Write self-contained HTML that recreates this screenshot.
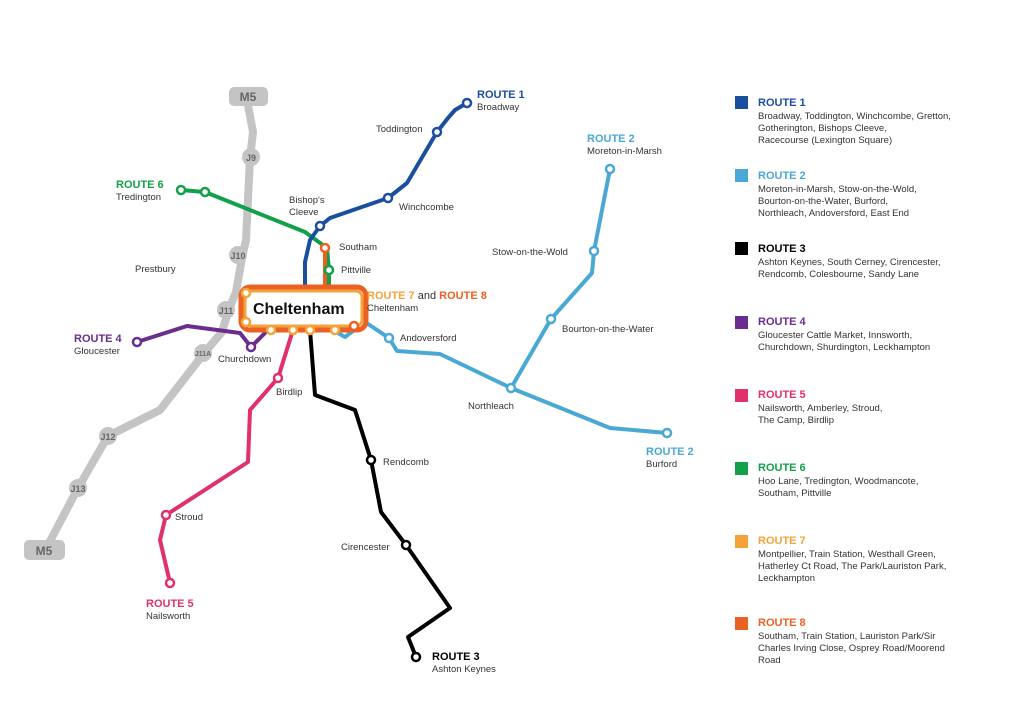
<!DOCTYPE html>
<html><head><meta charset="utf-8"><style>
body{margin:0;background:#fff}
svg{display:block}
text{font-family:"Liberation Sans",sans-serif;font-size:9.5px;fill:#333}
.b{font-weight:bold;font-size:11px}
</style></head><body>
<svg width="1024" height="724" viewBox="0 0 1024 724">
<g fill="none" stroke-linejoin="round" stroke-linecap="round">
<!-- M5 -->
<polyline stroke="#c4c4c4" stroke-width="8" points="247,100 253,132 250,158 246,240 242,258 236,292 228,312 222,332 205,352 160,410 108,436 78,488 48,545"/>
<!-- route 6 -->
<polyline stroke="#12a04b" stroke-width="4" points="181,190 205,192 305,232 327,248 329,270 329,290"/>
<!-- route 8 orange spur -->
<polyline stroke="#ea6223" stroke-width="4" points="325,248 325,290"/>
<!-- route 1 -->
<polyline stroke="#1a4e9e" stroke-width="4" points="467,103 455,110 448,118 437,132 407,183 388,198 330,218 320,226 310,240 305,262 305,292"/>
<!-- route 2 -->
<polyline stroke="#4aa9d4" stroke-width="4" points="610,169 594,251 592,273 551,319 511,388"/>
<polyline stroke="#4aa9d4" stroke-width="4" points="336,332 345,337 365,322 389,338 397,351 440,354 511,388 610,428 667,433"/>
<!-- route 3 -->
<polyline stroke="#000" stroke-width="4" points="310,330 315,395 355,410 371,460 381,512 406,545 450,608 408,637 416,657"/>
<!-- route 5 -->
<polyline stroke="#e0306e" stroke-width="4" points="293,330 278,378 250,410 248,462 166,515 160,540 170,583"/>
<!-- route 4 -->
<polyline stroke="#6a2c8f" stroke-width="4" points="137,342 187,326 240,333 251,347 265,333"/>
<!-- box -->
<rect x="241" y="287" width="125" height="43" rx="9" stroke="#ea6223" stroke-width="5" fill="#fff"/>
<rect x="245" y="291" width="117" height="35" rx="6" stroke="#f4a33a" stroke-width="3"/>
</g>
<!-- M5 labels -->
<g fill="#c4c4c4">
<rect x="229" y="87" width="39" height="19" rx="5"/>
<rect x="24" y="540" width="41" height="20" rx="5"/>
<circle cx="251" cy="157" r="9"/><circle cx="238" cy="255" r="9"/><circle cx="226" cy="310" r="9"/><circle cx="203" cy="353" r="9"/><circle cx="108" cy="436" r="9"/><circle cx="78" cy="488" r="9"/>
</g>
<g font-weight="bold" style="font-weight:bold">
<text x="248" y="101" text-anchor="middle" style="font-size:12px;fill:#666;font-weight:bold">M5</text>
<text x="44" y="555" text-anchor="middle" style="font-size:12px;fill:#666;font-weight:bold">M5</text>
<text x="251" y="161" text-anchor="middle" style="font-size:9px;fill:#666">J9</text>
<text x="238" y="259" text-anchor="middle" style="font-size:9px;fill:#666">J10</text>
<text x="226" y="314" text-anchor="middle" style="font-size:9px;fill:#666">J11</text>
<text x="203" y="356" text-anchor="middle" style="font-size:7px;fill:#666">J11A</text>
<text x="108" y="440" text-anchor="middle" style="font-size:9px;fill:#666">J12</text>
<text x="78" y="492" text-anchor="middle" style="font-size:9px;fill:#666">J13</text>
</g>
<!-- stations -->
<g fill="#fff" stroke-width="2.5">
<g stroke="#1a4e9e"><circle cx="467" cy="103" r="4"/><circle cx="437" cy="132" r="4"/><circle cx="388" cy="198" r="4"/><circle cx="320" cy="226" r="4"/></g>
<g stroke="#12a04b"><circle cx="181" cy="190" r="4"/><circle cx="205" cy="192" r="4"/><circle cx="329" cy="270" r="4"/></g>
<g stroke="#ea6223"><circle cx="325" cy="248" r="4"/><circle cx="354" cy="326" r="4"/></g>
<g stroke="#4aa9d4"><circle cx="610" cy="169" r="4"/><circle cx="594" cy="251" r="4"/><circle cx="551" cy="319" r="4"/><circle cx="511" cy="388" r="4"/><circle cx="389" cy="338" r="4"/><circle cx="667" cy="433" r="4"/></g>
<g stroke="#000"><circle cx="371" cy="460" r="4"/><circle cx="406" cy="545" r="4"/><circle cx="416" cy="657" r="4"/></g>
<g stroke="#e0306e"><circle cx="278" cy="378" r="4"/><circle cx="166" cy="515" r="4"/><circle cx="170" cy="583" r="4"/></g>
<g stroke="#6a2c8f"><circle cx="137" cy="342" r="4"/><circle cx="251" cy="347" r="4"/></g>
<g stroke="#f4a33a"><circle cx="246" cy="293" r="4"/><circle cx="246" cy="322" r="4"/><circle cx="271" cy="330" r="4"/><circle cx="293" cy="330" r="4"/><circle cx="310" cy="330" r="4"/><circle cx="335" cy="330" r="4"/></g>
</g>
<text x="253" y="314" style="font-size:16px;font-weight:bold;fill:#111">Cheltenham</text>
<!-- map labels -->
<text x="477" y="98" class="b" style="fill:#1a4e9e">ROUTE 1</text><text x="477" y="110">Broadway</text>
<text x="376" y="132">Toddington</text>
<text x="399" y="210">Winchcombe</text>
<text x="289" y="203">Bishop's</text><text x="289" y="215">Cleeve</text>
<text x="116" y="188" class="b" style="fill:#12a04b">ROUTE 6</text><text x="116" y="200">Tredington</text>
<text x="339" y="250">Southam</text>
<text x="341" y="273">Pittville</text>
<text x="135" y="272">Prestbury</text>
<text x="367" y="299" class="b" style="fill:#f4a33a">ROUTE 7 <tspan style="fill:#333;font-weight:normal">and</tspan> <tspan style="fill:#ea6223">ROUTE 8</tspan></text>
<text x="367" y="311">Cheltenham</text>
<text x="400" y="341">Andoversford</text>
<text x="74" y="342" class="b" style="fill:#6a2c8f">ROUTE 4</text><text x="74" y="354">Gloucester</text>
<text x="218" y="362">Churchdown</text>
<text x="276" y="395">Birdlip</text>
<text x="587" y="142" class="b" style="fill:#4aa9d4">ROUTE 2</text><text x="587" y="154">Moreton-in-Marsh</text>
<text x="492" y="255">Stow-on-the-Wold</text>
<text x="562" y="332">Bourton-on-the-Water</text>
<text x="468" y="409">Northleach</text>
<text x="646" y="455" class="b" style="fill:#4aa9d4">ROUTE 2</text><text x="646" y="467">Burford</text>
<text x="383" y="465">Rendcomb</text>
<text x="341" y="550">Cirencester</text>
<text x="432" y="660" class="b" style="fill:#000">ROUTE 3</text><text x="432" y="672">Ashton Keynes</text>
<text x="175" y="520">Stroud</text>
<text x="146" y="607" class="b" style="fill:#e0306e">ROUTE 5</text><text x="146" y="619">Nailsworth</text>
<!-- legend -->
<g>
<rect x="735" y="96" width="13" height="13" fill="#1a4e9e"/>
<text x="758" y="106" class="b" style="fill:#1a4e9e">ROUTE 1</text>
<text x="758" y="119">Broadway, Toddington, Winchcombe, Gretton,</text>
<text x="758" y="131">Gotherington, Bishops Cleeve,</text>
<text x="758" y="143">Racecourse (Lexington Square)</text>

<rect x="735" y="169" width="13" height="13" fill="#4aa9d4"/>
<text x="758" y="179" class="b" style="fill:#4aa9d4">ROUTE 2</text>
<text x="758" y="192">Moreton-in-Marsh, Stow-on-the-Wold,</text>
<text x="758" y="204">Bourton-on-the-Water, Burford,</text>
<text x="758" y="216">Northleach, Andoversford, East End</text>

<rect x="735" y="242" width="13" height="13" fill="#000"/>
<text x="758" y="252" class="b" style="fill:#000">ROUTE 3</text>
<text x="758" y="265">Ashton Keynes, South Cerney, Cirencester,</text>
<text x="758" y="277">Rendcomb, Colesbourne, Sandy Lane</text>

<rect x="735" y="316" width="13" height="13" fill="#6a2c8f"/>
<text x="758" y="325" class="b" style="fill:#6a2c8f">ROUTE 4</text>
<text x="758" y="338">Gloucester Cattle Market, Innsworth,</text>
<text x="758" y="350">Churchdown, Shurdington, Leckhampton</text>

<rect x="735" y="389" width="13" height="13" fill="#e0306e"/>
<text x="758" y="398" class="b" style="fill:#e0306e">ROUTE 5</text>
<text x="758" y="411">Nailsworth, Amberley, Stroud,</text>
<text x="758" y="423">The Camp, Birdlip</text>

<rect x="735" y="462" width="13" height="13" fill="#12a04b"/>
<text x="758" y="471" class="b" style="fill:#12a04b">ROUTE 6</text>
<text x="758" y="484">Hoo Lane, Tredington, Woodmancote,</text>
<text x="758" y="496">Southam, Pittville</text>

<rect x="735" y="535" width="13" height="13" fill="#f4a33a"/>
<text x="758" y="544" class="b" style="fill:#f4a33a">ROUTE 7</text>
<text x="758" y="557">Montpellier, Train Station, Westhall Green,</text>
<text x="758" y="569">Hatherley Ct Road, The Park/Lauriston Park,</text>
<text x="758" y="581">Leckhampton</text>

<rect x="735" y="617" width="13" height="13" fill="#ea6223"/>
<text x="758" y="626" class="b" style="fill:#ea6223">ROUTE 8</text>
<text x="758" y="639">Southam, Train Station, Lauriston Park/Sir</text>
<text x="758" y="651">Charles Irving Close, Osprey Road/Moorend</text>
<text x="758" y="663">Road</text>
</g>
</svg>
</body></html>
